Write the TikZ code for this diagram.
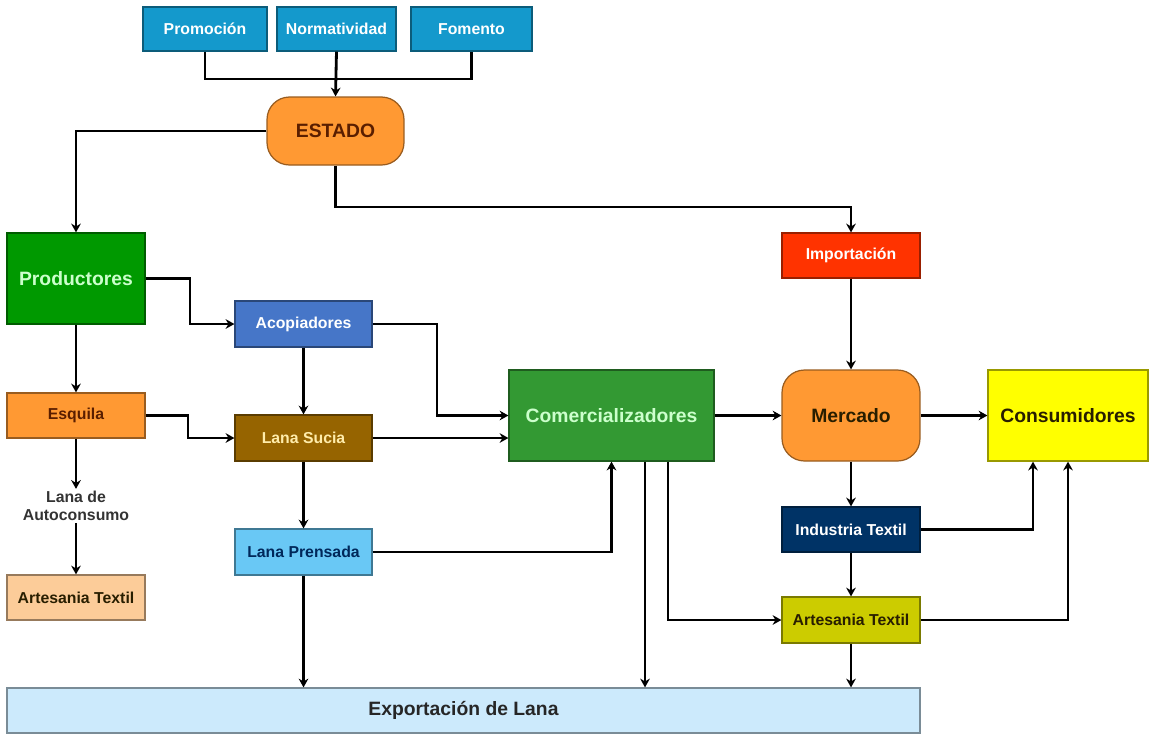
\documentclass[tikz,border=0pt]{standalone}
\usepackage{fontspec}
\setmainfont{Liberation Sans}
\usetikzlibrary{arrows.meta,calc}
\definecolor{cblue}{RGB}{20,153,204}
\definecolor{corange}{RGB}{255,153,51}
\definecolor{cgreen}{RGB}{0,153,0}
\definecolor{cacop}{RGB}{70,118,200}
\definecolor{csucia}{RGB}{150,100,0}
\definecolor{cprensa}{RGB}{105,200,245}
\definecolor{cpeach}{RGB}{252,204,153}
\definecolor{ccom}{RGB}{51,153,51}
\definecolor{cimp}{RGB}{255,51,0}
\definecolor{cyel}{RGB}{255,255,0}
\definecolor{cnavy}{RGB}{0,51,102}
\definecolor{colive}{RGB}{204,204,0}
\definecolor{cexp}{RGB}{204,234,252}
\definecolor{tlgreen}{RGB}{204,255,204}
\definecolor{tbrown}{RGB}{90,30,0}
\definecolor{tcream}{RGB}{255,236,170}
\definecolor{tnavy}{RGB}{0,40,90}
\definecolor{tdark}{RGB}{40,30,0}
\tikzset{
  bx/.style={draw=#1!60!black, fill=#1, line width=0.7pt, inner sep=0pt, font=\bfseries\fontsize{9}{11}\selectfont},
  big/.style={font=\bfseries\fontsize{11}{13}\selectfont},
  rnd/.style={rounded corners=0.45cm},
  arr/.style={line width=1.6pt, -{Stealth[length=5pt,width=5.5pt]}},
  ln/.style={line width=1.6pt},
}
\begin{document}
\begin{tikzpicture}[x=0.02cm,y=-0.02cm]
\useasboundingbox (0,0) rectangle (1149,735);
% nodes
\node[bx=cblue, text=white, minimum width=2.48cm, minimum height=0.88cm] (prom) at (205,29) {Promoción};
\node[bx=cblue, text=white, minimum width=2.38cm, minimum height=0.88cm] (norm) at (336.5,29) {Normatividad};
\node[bx=cblue, text=white, minimum width=2.42cm, minimum height=0.88cm] (fom) at (471.5,29) {Fomento};
\node[bx=corange, big, rnd, text=tbrown, minimum width=2.74cm, minimum height=1.36cm] (estado) at (335.5,131) {ESTADO};
\node[bx=cgreen, big, text=tlgreen, minimum width=2.76cm, minimum height=1.82cm] (prod) at (76,278.5) {Productores};
\node[bx=cacop, text=white, minimum width=2.74cm, minimum height=0.92cm] (acop) at (303.5,324) {Acopiadores};
\node[bx=corange, text=tbrown, minimum width=2.76cm, minimum height=0.9cm] (esq) at (76,415.5) {Esquila};
\node[bx=csucia, text=tcream, minimum width=2.74cm, minimum height=0.92cm] (sucia) at (303.5,438) {Lana Sucia};
\node[bx=cprensa, text=tnavy, minimum width=2.74cm, minimum height=0.92cm] (prensa) at (303.5,552) {Lana Prensada};
\node[inner sep=1pt, align=center, text=black!80, font=\bfseries\fontsize{9}{10.5}\selectfont] (auto) at (76,506) {Lana de\\Autoconsumo};
\node[bx=cpeach, text=tdark, minimum width=2.76cm, minimum height=0.9cm] (artL) at (76,597.5) {Artesania Textil};
\node[bx=ccom, big, text=tlgreen, minimum width=4.1cm, minimum height=1.82cm] (com) at (611.5,415.5) {Comercializadores};
\node[bx=cimp, text=white, minimum width=2.76cm, minimum height=0.9cm] (imp) at (851,255.5) {Importación};
\node[bx=corange, big, rnd, text=tdark, minimum width=2.76cm, minimum height=1.82cm] (merc) at (851,415.5) {Mercado};
\node[bx=cyel, big, text=tdark, minimum width=3.2cm, minimum height=1.82cm] (cons) at (1068,415.5) {Consumidores};
\node[bx=cnavy, text=white, minimum width=2.76cm, minimum height=0.9cm] (ind) at (851,529.5) {Industria Textil};
\node[bx=colive, text=tdark, minimum width=2.76cm, minimum height=0.92cm] (artR) at (851,620) {Artesania Textil};
\node[bx=cexp, big, text=black!85, minimum width=18.26cm, minimum height=0.9cm] (exp) at (463.5,710.5) {Exportación de Lana};
% connectors
\coordinate (j) at (336.5,79);
\coordinate (e1) at (335.5,207);
\draw[ln] (prom.south) |- (j) -| (fom.south);
\draw[arr] (norm.south) -- (estado.north);
\draw[arr] (estado.west) -| (prod.north);
\draw[arr] (estado.south) -- (e1) -| (imp.north);
\draw[arr] (prod.east) -- (prod.east -| 190,0) |- (acop.west);
\draw[arr] (prod.south) -- (esq.north);
\draw[arr] (acop.east) -- (acop.east -| 437,0) |- (com.west);
\draw[arr] (acop.south) -- (sucia.north);
\draw[arr] (esq.east) -- (esq.east -| 188,0) |- (sucia.west);
\draw[arr] (sucia.east) -- (sucia.east -| com.west);
\draw[arr] (sucia.south) -- (prensa.north);
\draw[arr] (prensa.east) -| (com.south);
\draw[arr] (prensa.south) -- (prensa.south |- exp.north);
\draw[arr] (esq.south) -- (auto.north);
\draw[arr] (auto.south) -- (artL.north);
\draw[arr] (com.south -| 645,0) -- (exp.north -| 645,0);
\draw[arr] (com.south -| 668,0) |- (artR.west);
\draw[arr] (com.east) -- (merc.west);
\draw[arr] (imp.south) -- (merc.north);
\draw[arr] (merc.east) -- (cons.west);
\draw[arr] (merc.south) -- (ind.north);
\draw[arr] (ind.east) -| (cons.south -| 1033,0);
\draw[arr] (artR.east) -| (cons.south);
\draw[arr] (ind.south) -- (artR.north);
\draw[arr] (artR.south) -- (artR.south |- exp.north);
\end{tikzpicture}
\end{document}
